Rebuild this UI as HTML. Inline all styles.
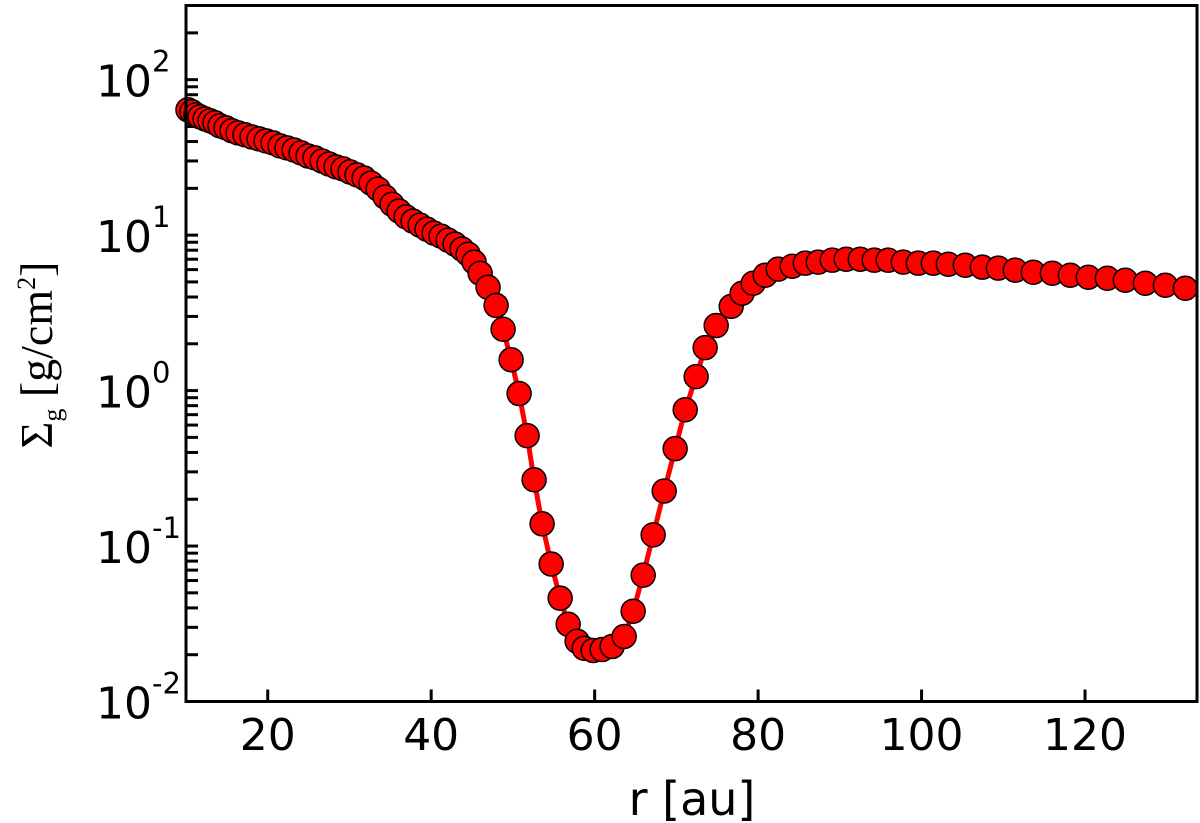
<!DOCTYPE html>
<html><head><meta charset="utf-8"><style>
html,body{margin:0;padding:0;background:#fff;}
svg{display:block;}
</style></head><body>
<svg id="chart" width="1200" height="823" xmlns="http://www.w3.org/2000/svg">
<g id="axes"></g>
<g id="series"></g>
<rect x="186" y="5.5" width="1011" height="696" fill="none" stroke="#000" stroke-width="3"/>
<text x="692" y="815" font-family="DejaVu Sans, Liberation Sans, sans-serif" font-size="46" text-anchor="middle">r [au]</text>
<text transform="translate(52,355) rotate(-90)" font-family="Liberation Serif, DejaVu Serif, serif" font-size="46" text-anchor="middle">Σ<tspan font-size="26" dy="9">g</tspan><tspan dy="-9"> [g/cm</tspan><tspan font-size="26" dy="-17">2</tspan><tspan dy="17">]</tspan></text>
</svg>
<script>
const radii = [10.24,10.73,11.22,11.71,12.33,12.94,13.55,14.16,14.90,15.63,16.37,17.22,18.08,18.94,19.79,20.65,21.51,22.36,23.22,24.08,24.93,25.79,26.65,27.50,28.36,29.22,30.07,30.93,31.79,32.64,33.50,34.36,35.21,36.07,36.93,37.78,38.64,39.50,40.35,41.21,42.07,42.92,43.78,44.52,45.25,45.99,46.96,47.94,48.80,49.78,50.76,51.74,52.59,53.57,54.68,55.78,56.76,57.86,58.72,59.82,60.92,62.14,63.61,64.71,65.94,67.16,68.51,69.85,71.08,72.42,73.52,74.87,76.71,78.05,79.40,80.87,82.46,84.17,85.77,87.36,89.07,90.78,92.50,94.21,95.92,97.76,99.60,101.43,103.27,105.35,107.43,109.39,111.47,113.67,116.00,118.20,120.40,122.73,124.93,127.38,129.83,132.28];
const sigmaGas = [64.0,62.2,59.5,57.7,56.0,54.4,52.8,50.5,49.0,46.9,45.5,44.2,42.8,41.6,40.4,39.2,37.5,36.4,35.3,33.8,32.3,31.4,30.0,28.7,27.5,26.7,25.5,24.4,23.3,21.6,19.8,17.6,15.8,14.3,13.1,12.3,11.6,10.9,10.3,9.86,9.29,8.75,8.13,7.54,6.70,5.69,4.62,3.53,2.48,1.58,0.957,0.513,0.267,0.139,0.0766,0.0462,0.0314,0.0244,0.0220,0.0213,0.0216,0.0226,0.0262,0.0381,0.0650,0.118,0.226,0.423,0.753,1.23,1.89,2.62,3.48,4.23,4.90,5.52,6.04,6.31,6.60,6.70,6.90,7.00,7.00,6.90,6.90,6.70,6.60,6.60,6.50,6.40,6.22,6.13,5.95,5.77,5.69,5.52,5.36,5.28,5.13,4.90,4.76,4.55];
const xTicks = [20,40,60,80,100,120];
const yDecades = [-2,-1,0,1,2];
const xDomain = [10,133.7];
const yDomain = [0.01,300];

const NS='http://www.w3.org/2000/svg';
const L=186,R=1197,T=5.5,B=701.5;
function xs(v){return L+(v-xDomain[0])/(xDomain[1]-xDomain[0])*(R-L);}
function ys(v){const a=Math.log10(yDomain[0]),b=Math.log10(yDomain[1]);return B-(Math.log10(v)-a)/(b-a)*(B-T);}
function mk(tag,attrs,parent){const e=document.createElementNS(NS,tag);for(const k in attrs)e.setAttribute(k,attrs[k]);parent.appendChild(e);return e;}
const axes=document.getElementById('axes'), series=document.getElementById('series');
const font='DejaVu Sans, Liberation Sans, sans-serif';
xTicks.forEach(t=>{
  const x=xs(t);
  const tk=mk('line',{x1:x,x2:x,y1:B,y2:B-12,stroke:'#000','stroke-width':3},axes);
  
  
  const lb=mk('text',{x:x,y:750,'font-family':font,'font-size':44,'text-anchor':'middle'},axes);
  lb.textContent=String(t);
  
  
});
yDecades.forEach(d=>{
  for(let m=1;m<=9;m++){
    const v=m*Math.pow(10,d);
    if(v<yDomain[0]||v>yDomain[1])continue;
    const y=ys(v);
    const tk=mk('line',{x1:L,x2:L+12,y1:y,y2:y,stroke:'#000','stroke-width':3},axes);
    
    
  }
  const y=ys(Math.pow(10,d));
  const lb=mk('text',{x:96,y:y+17,'font-family':font,'font-size':44},axes);
  
  
  lb.appendChild(document.createTextNode('10'));
  const sp=mk('tspan',{'font-size':29,dy:-25},lb);
  sp.textContent=String(d);
});
let dstr='';
radii.forEach((r,i)=>{dstr+=(i?'L':'M')+xs(r).toFixed(1)+' '+ys(sigmaGas[i]).toFixed(1);});
const line=mk('path',{d:dstr,fill:'none',stroke:'#ff0000','stroke-width':5,'stroke-linejoin':'round'},series);


radii.forEach((r,i)=>{
  const c=mk('circle',{cx:xs(r),cy:ys(sigmaGas[i]),r:12,fill:'#ff0000',stroke:'#000','stroke-width':1.5},series);
  
  
});
</script>
</body></html>
